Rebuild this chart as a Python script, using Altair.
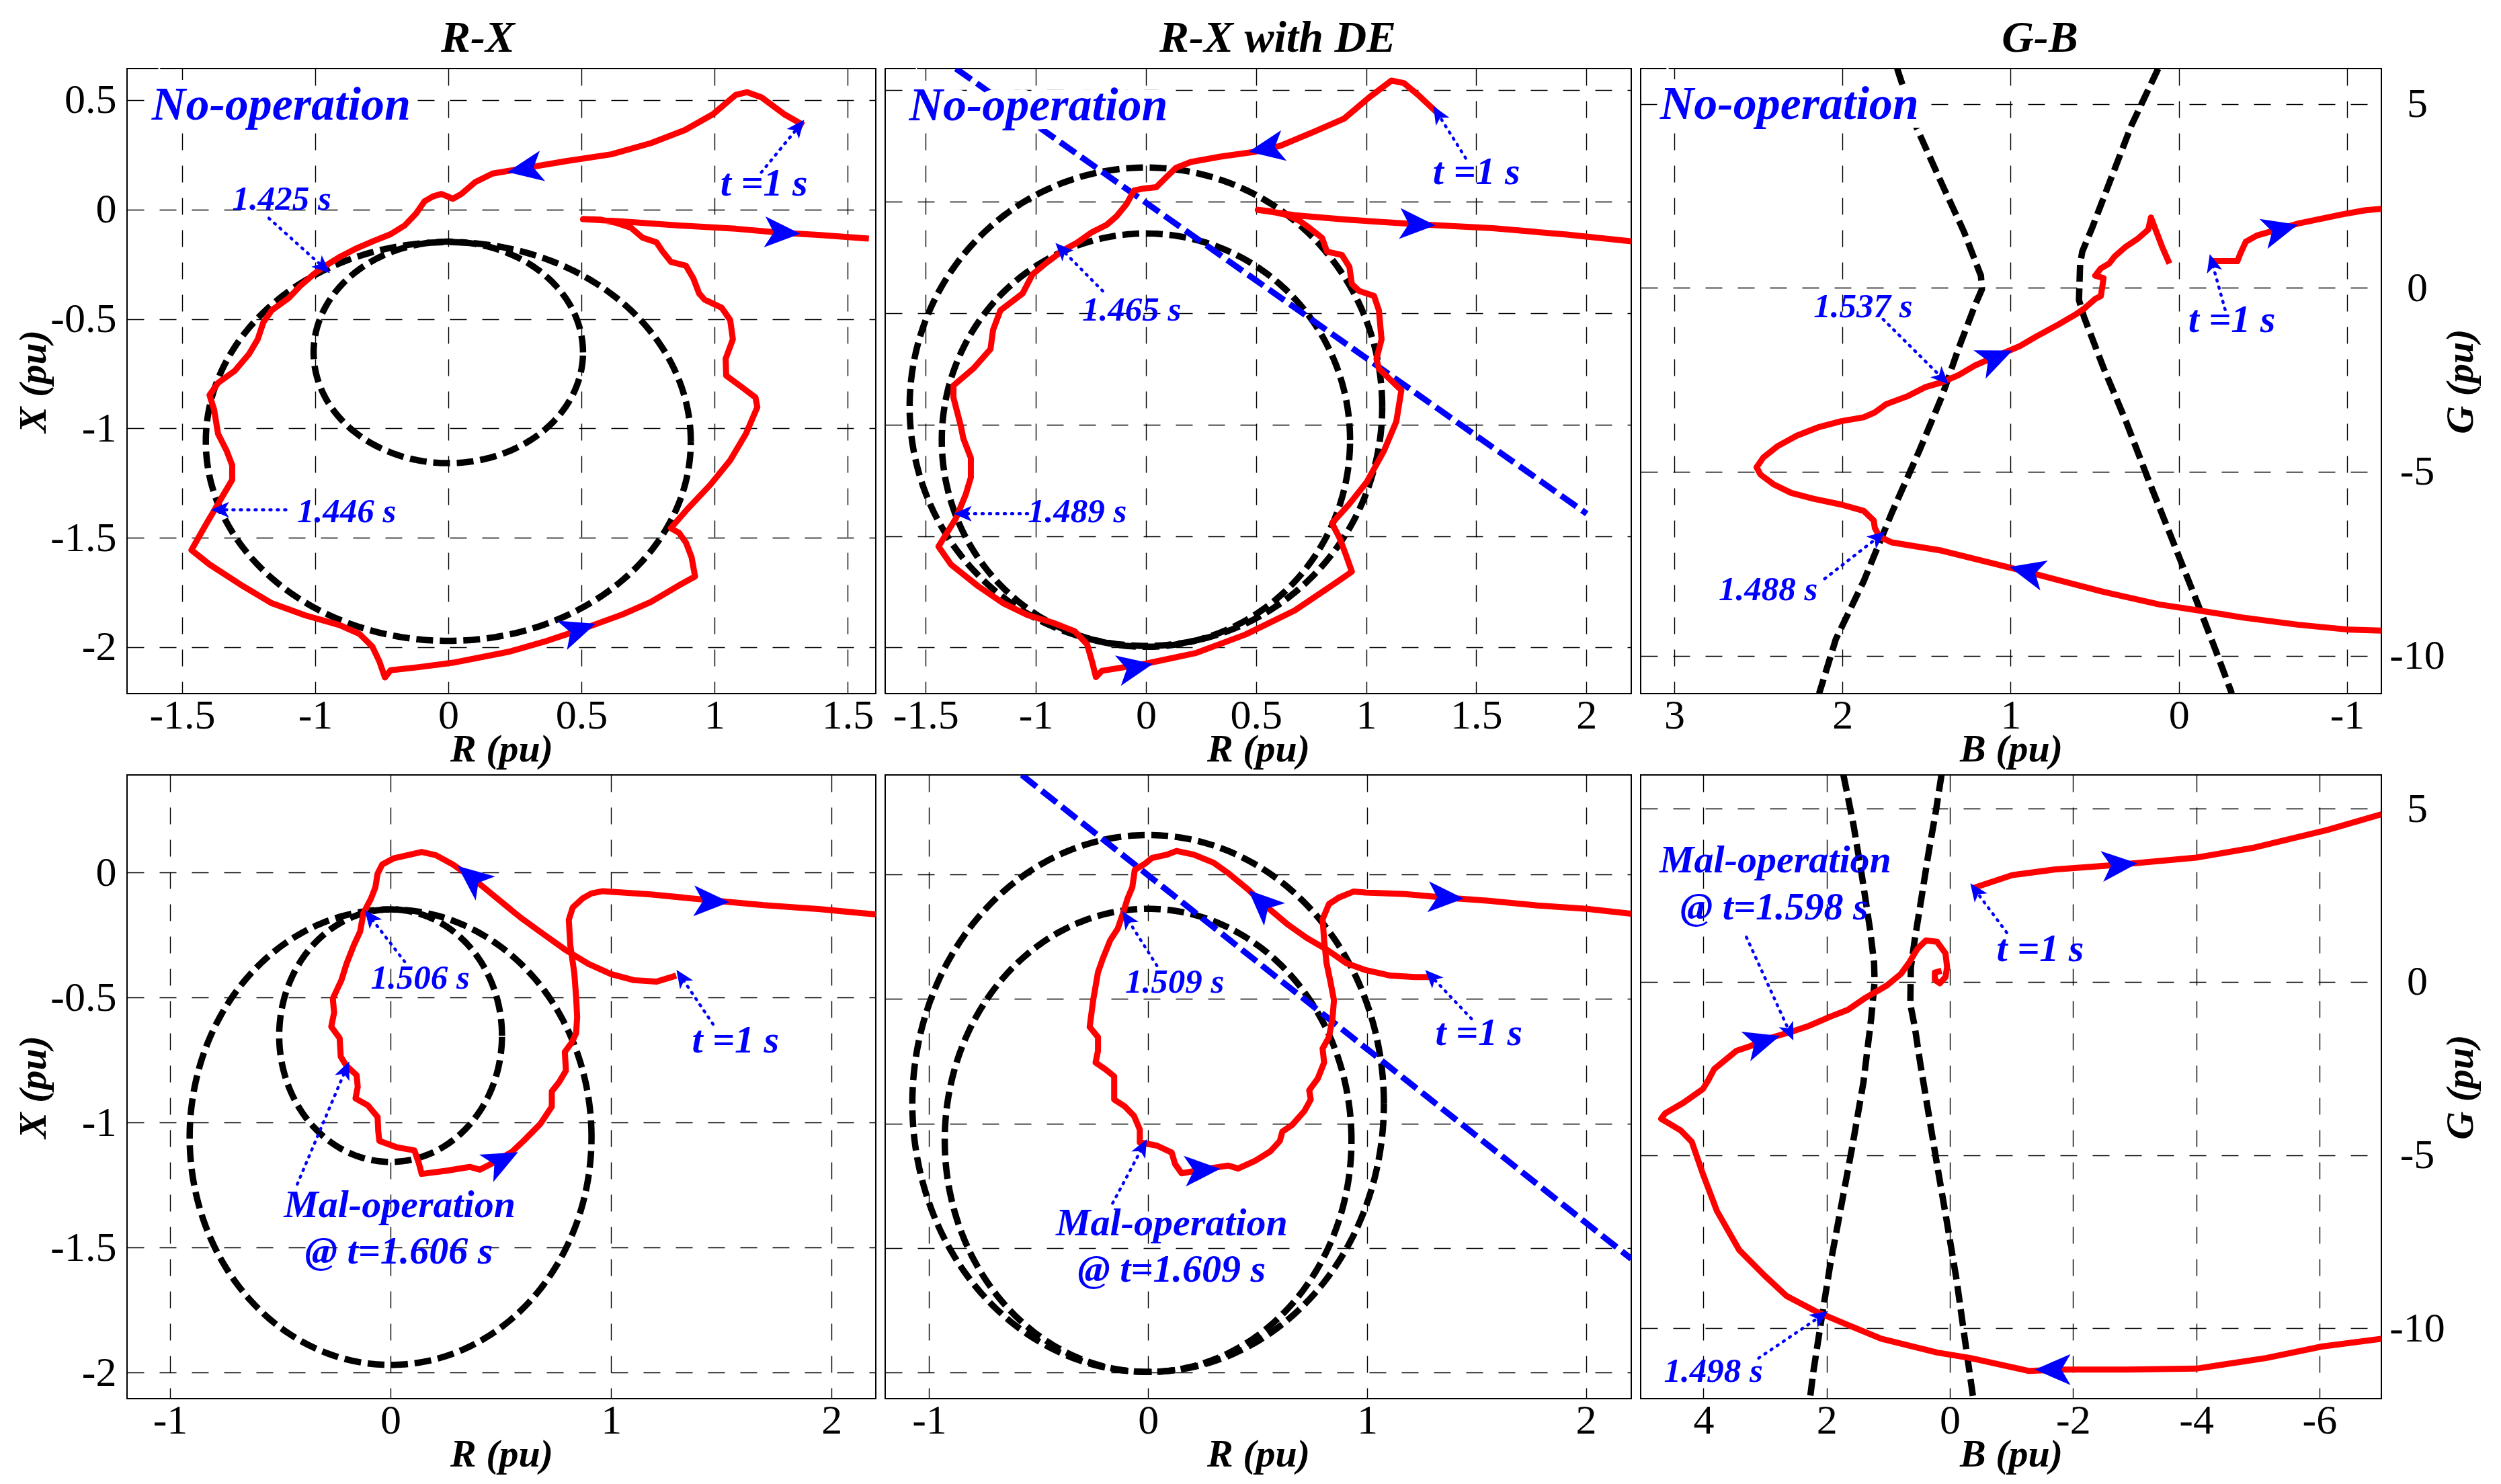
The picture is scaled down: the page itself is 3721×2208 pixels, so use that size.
import altair as alt
import numpy as np
import pandas as pd

FONT = "Liberation Serif"
RED = "#ff0000"
BLUE = "#0000ff"
ARROW = "M0,-1L0.8,0.85L0,0.38L-0.8,0.85Z"

# ======================= DATA =======================
# ---------- Panel 1 : R-X (no-operation) ----------
P1_RED = [(1.335,0.385),(1.261,0.436),(1.176,0.513),(1.123,0.536),(1.080,0.524),(0.995,0.436),(0.889,0.363),
          (0.761,0.303),(0.612,0.252),(0.442,0.221),(0.272,0.186),(0.166,0.164),(0.102,0.126),(0.049,0.071),
          (0.017,0.049),(-0.004,0.060),(-0.026,0.071),(-0.057,0.060),(-0.089,0.038),(-0.121,-0.018),(-0.164,-0.073),
          (-0.217,-0.113),(-0.281,-0.144),(-0.344,-0.177),(-0.408,-0.217),(-0.461,-0.257),(-0.504,-0.294),
          (-0.557,-0.350),(-0.600,-0.405),(-0.663,-0.460),(-0.695,-0.516),(-0.716,-0.593),(-0.748,-0.659),
          (-0.802,-0.737),(-0.865,-0.792),(-0.897,-0.848),(-0.880,-0.914),(-0.865,-1.025),(-0.833,-1.102),
          (-0.812,-1.168),(-0.812,-1.235),(-0.844,-1.301),(-0.876,-1.368),(-0.908,-1.434),(-0.965,-1.556),
          (-0.897,-1.622),(-0.770,-1.722),(-0.663,-1.799),(-0.536,-1.855),(-0.408,-1.899),(-0.334,-1.939),
          (-0.285,-1.998),(-0.259,-2.065),(-0.238,-2.138),(-0.217,-2.105),(-0.111,-2.091),(0.017,-2.071),
          (0.230,-2.020),(0.357,-1.976),(0.506,-1.916),(0.655,-1.850),(0.761,-1.793),(0.867,-1.717),(0.927,-1.677),
          (0.914,-1.589),(0.893,-1.522),(0.867,-1.478),(0.836,-1.456),(0.899,-1.368),(0.985,-1.257),(1.059,-1.146),
          (1.118,-1.025),(1.161,-0.903),(1.154,-0.859),(1.101,-0.810),(1.044,-0.759),(1.042,-0.682),(1.069,-0.593),
          (1.059,-0.505),(1.027,-0.449),(0.963,-0.412),(0.942,-0.383),(0.921,-0.316),(0.893,-0.257),(0.836,-0.239),
          (0.804,-0.190),(0.782,-0.150),(0.729,-0.128),(0.687,-0.084),(0.634,-0.062),(0.570,-0.046),(0.506,-0.044),
          (0.655,-0.055),(0.867,-0.073),(1.080,-0.088),(1.250,-0.106),(1.399,-0.117),(1.580,-0.133)]
P1_CIRCLES = [(0.0, -0.653, 0.506), (0.0, -1.060, 0.911)]          # centre R, centre X, radius
P1_DIR = [(0.293, 0.186, 260), (0.485, -1.921, 71), (1.250, -0.106, 93)]
P1_ANN = [(1.176, 0.170, 1.314, 0.375, 39), (-0.674, -0.040, -0.472, -0.261, 132),
          (-0.610, -1.372, -0.855, -1.372, 270)]
P1_TXT = [("No-operation", -1.114, 0.474, 70, "left", 1), ("t =1 s", 1.186, 0.115, 58, "center", 0),
          ("1.425 s", -0.812, 0.044, 51, "left", 0), ("1.446 s", -0.568, -1.383, 51, "left", 0)]
P1_XTICKS = [-1, -0.5, 0, 0.5, 1, 1.5]
P1_XLABELS = ["-1.5", "-1", "0", "0.5", "1", "1.5"]
P1_YTICKS = [0.5, 0, -0.5, -1, -1.5, -2]
P1_YLABELS = ["0.5", "0", "-0.5", "-1", "-1.5", "-2"]

# ---------- Panel 2 : R-X with DE (no-operation) ----------
P2_RED = [(1.324,0.397),(1.238,0.477),(1.171,0.532),(1.115,0.543),(1.013,0.467),(0.901,0.373),(0.766,0.315),
          (0.609,0.250),(0.497,0.224),(0.339,0.202),(0.204,0.178),(0.137,0.152),(0.092,0.109),(0.047,0.065),
          (-0.009,0.059),(-0.054,0.050),(-0.088,-0.011),(-0.133,-0.065),(-0.178,-0.104),(-0.245,-0.137),
          (-0.312,-0.184),(-0.380,-0.221),(-0.447,-0.271),(-0.515,-0.326),(-0.560,-0.412),(-0.661,-0.488),
          (-0.694,-0.575),(-0.706,-0.662),(-0.784,-0.749),(-0.874,-0.825),(-0.874,-0.879),(-0.840,-1.009),
          (-0.829,-1.063),(-0.795,-1.150),(-0.795,-1.237),(-0.818,-1.313),(-0.863,-1.421),(-0.942,-1.547),
          (-0.885,-1.628),(-0.762,-1.725),(-0.649,-1.801),(-0.537,-1.855),(-0.425,-1.888),(-0.324,-1.927),
          (-0.267,-1.986),(-0.245,-2.062),(-0.227,-2.133),(-0.200,-2.105),(0.002,-2.072),(0.227,-2.025),
          (0.452,-1.942),(0.676,-1.834),(0.856,-1.714),(0.935,-1.660),(0.912,-1.595),(0.879,-1.508),(0.845,-1.443),
          (0.924,-1.356),(1.002,-1.259),(1.081,-1.118),(1.137,-0.987),(1.160,-0.846),(1.126,-0.814),(1.058,-0.749),
          (1.047,-0.705),(1.070,-0.618),(1.058,-0.488),(1.036,-0.423),(0.969,-0.401),(0.935,-0.369),(0.924,-0.293),
          (0.890,-0.239),(0.822,-0.224),(0.800,-0.163),(0.744,-0.119),(0.699,-0.087),(0.643,-0.061),(0.564,-0.043),
          (0.508,-0.037),(0.676,-0.061),(0.901,-0.080),(1.238,-0.102),(1.575,-0.119),(1.912,-0.148),(2.204,-0.178)]
P2_CIRCLES = [(0.0, -0.920, 1.073), (0.0, -1.070, 0.927)]
P2_DE = [(-0.863, 0.597), (2.002, -1.400)]
P2_DIR = [(0.553, 0.239, 260), (1.227, -0.102, 93), (-0.054, -2.090, 79)]
P2_ANN = [(1.452, 0.195, 1.328, 0.391, 329), (-0.196, -0.401, -0.380, -0.217, 316),
          (-0.537, -1.400, -0.829, -1.400, 270)]
P2_TXT = [("No-operation", -1.076, 0.428, 70, "left", 1), ("t =1 s", 1.501, 0.130, 58, "center", 0),
          ("1.465 s", -0.290, -0.488, 51, "left", 0), ("1.489 s", -0.537, -1.393, 51, "left", 0)]
P2_XTICKS = [-1, -0.5, 0, 0.5, 1, 1.5, 2]
P2_XLABELS = ["-1.5", "-1", "0", "0.5", "1", "1.5", "2"]

# ---------- Panel 3 : G-B (no-operation) ----------
P3_RED_A = [(-0.182,0.725),(-0.348,0.725),(-0.365,0.923),(-0.398,1.252),(-0.464,1.423),(-0.597,1.595),
            (-0.713,1.753),(-0.978,2.003),(-1.111,2.109),(-1.204,2.148)]
P3_RED_B = [(-1.204,-9.319),(-1.012,-9.292),(-0.713,-9.160),(-0.381,-8.963),(-0.149,-8.791),(0.116,-8.607),
            (0.448,-8.264),(0.879,-7.750),(1.144,-7.447),(1.410,-7.144),(1.708,-6.920),(1.781,-6.762),
            (1.808,-6.524),(1.814,-6.327),(1.874,-6.063),(2.007,-5.892),(2.172,-5.733),(2.305,-5.575),
            (2.411,-5.338),(2.488,-5.074),(2.511,-4.877),(2.471,-4.613),(2.388,-4.310),(2.272,-4.020),
            (2.139,-3.783),(2.007,-3.625),(1.874,-3.519),(1.808,-3.387),(1.741,-3.163),(1.609,-2.939),
            (1.509,-2.702),(1.410,-2.570),(1.310,-2.372),(1.211,-2.109),(1.078,-1.845),(0.945,-1.582),
            (0.846,-1.318),(0.713,-0.989),(0.614,-0.725),(0.564,-0.567),(0.498,-0.303),(0.464,-0.224),
            (0.454,0.066),(0.448,0.264),(0.498,0.330),(0.464,0.527),(0.415,0.659),(0.381,0.857),(0.315,1.120),
            (0.249,1.318),(0.182,1.582),(0.166,1.911),(0.133,1.516),(0.100,1.120),(0.056,0.659)]
P3_BLK_A = [(1.675,5.958),(1.559,4.350),(1.410,2.834),(1.277,1.516),(1.177,0.330),(1.171,-0.040),(1.211,-0.461),
            (1.310,-1.648),(1.410,-2.966),(1.542,-4.415),(1.708,-6.129),(1.874,-7.974),(2.040,-9.556),(2.139,-11.03)]
P3_BLK_B = [(0.123,5.958),(0.282,4.415),(0.415,2.834),(0.514,1.648),(0.574,0.989),(0.587,0.659),(0.594,-0.330),
            (0.564,-0.791),(0.448,-2.175),(0.315,-3.625),(0.182,-5.206),(0.033,-6.920),(-0.116,-8.633),
            (-0.216,-9.819),(-0.315,-11.03)]
P3_DIR = [(1.095, -1.911, 67), (-0.597, 1.582, 75), (0.896, -7.711, 284)]
P3_ANN = [(-0.275, -0.593, -0.199, 0.659, 345), (1.758, -0.857, 1.410, -2.438, 135),
          (2.106, -7.908, 1.791, -6.788, 52)]
P3_TXT = [("No-operation", 3.085, 4.969, 70, "left", 1), ("t =1 s", -0.315, -0.883, 58, "center", 0),
          ("1.537 s", 2.172, -0.527, 51, "left", 0), ("1.488 s", 2.736, -8.211, 51, "left", 0)]
P3_XTICKS = [3, 2, 1, 0, -1]
P3_XLABELS = ["3", "2", "1", "0", "-1"]
GB_YTICKS = [5, 0, -5, -10]
GB_YLABELS = ["5", "0", "-5", "-10"]

# ---------- Panel 4 : R-X (mal-operation) ----------
P4_RED = [(1.295,-0.412),(1.205,-0.436),(1.103,-0.430),(1.000,-0.406),(0.897,-0.365),(0.795,-0.310),
          (0.692,-0.245),(0.590,-0.180),(0.487,-0.106),(0.372,-0.022),(0.282,0.033),(0.205,0.070),(0.141,0.083),
          (0.077,0.070),(0.013,0.057),(-0.038,0.033),(-0.059,-0.004),(-0.069,-0.059),(-0.090,-0.106),
          (-0.123,-0.161),(-0.138,-0.235),(-0.167,-0.291),(-0.200,-0.365),(-0.223,-0.430),(-0.262,-0.504),
          (-0.256,-0.560),(-0.269,-0.616),(-0.231,-0.662),(-0.226,-0.736),(-0.200,-0.773),(-0.154,-0.810),
          (-0.149,-0.857),(-0.159,-0.903),(-0.103,-0.931),(-0.059,-0.977),(-0.056,-1.033),(-0.051,-1.073),
          (0.026,-1.098),(0.108,-1.111),(0.128,-1.162),(0.141,-1.205),(0.256,-1.192),(0.359,-1.177),(0.405,-1.188),
          (0.462,-1.162),(0.551,-1.116),(0.603,-1.073),(0.679,-1.005),(0.731,-0.936),(0.731,-0.875),(0.764,-0.838),
          (0.795,-0.792),(0.790,-0.717),(0.821,-0.680),(0.841,-0.643),(0.846,-0.578),(0.841,-0.495),(0.833,-0.402),
          (0.815,-0.291),(0.808,-0.189),(0.826,-0.139),(0.872,-0.102),(0.910,-0.083),(0.962,-0.074),(1.179,-0.087),
          (1.436,-0.109),(1.692,-0.130),(1.949,-0.146),(2.200,-0.167)]
P4_CIRCLES = [(0.0, -0.652, 0.505), (0.0, -1.058, 0.911)]
P4_DIR = [(0.372, -0.022, 309), (1.449, -0.115, 92), (0.500, -1.153, 63)]
P4_ANN = [(1.462, -0.606, 1.321, -0.421, 326), (0.064, -0.356, -0.090, -0.180, 322),
          (-0.423, -1.246, -0.205, -0.791, 23)]
P4_TXT = [("t =1 s", 1.564, -0.675, 58, "center", 0), ("1.506 s", -0.090, -0.424, 51, "left", 0),
          ("Mal-operation", 0.041, -1.333, 58, "center", 0), ("@ t=1.606 s", 0.038, -1.518, 58, "center", 0)]
P4_XTICKS = [-1, 0, 1, 2]
P4_XLABELS = ["-1", "0", "1", "2"]
P4_YTICKS = [0, -0.5, -1, -1.5, -2]
P4_YLABELS = ["0", "-0.5", "-1", "-1.5", "-2"]

# ---------- Panel 5 : R-X with DE (mal-operation) ----------
P5_RED = [(1.297,-0.413),(1.219,-0.413),(1.107,-0.407),(0.994,-0.385),(0.905,-0.357),(0.815,-0.302),
          (0.725,-0.256),(0.635,-0.200),(0.523,-0.117),(0.456,-0.061),(0.366,0.004),(0.299,0.046),(0.209,0.078),
          (0.130,0.093),(0.085,0.078),(0.018,0.065),(-0.016,0.041),(-0.061,0.017),(-0.072,-0.052),(-0.094,-0.098),
          (-0.117,-0.163),(-0.139,-0.219),(-0.173,-0.265),(-0.207,-0.339),(-0.229,-0.394),(-0.251,-0.506),
          (-0.267,-0.613),(-0.229,-0.654),(-0.229,-0.709),(-0.240,-0.756),(-0.195,-0.783),(-0.155,-0.811),
          (-0.155,-0.904),(-0.106,-0.932),(-0.065,-0.969),(-0.038,-1.024),(-0.038,-1.076),(0.040,-1.089),
          (0.108,-1.117),(0.123,-1.163),(0.153,-1.200),(0.276,-1.181),(0.366,-1.169),(0.411,-1.181),(0.489,-1.150),
          (0.557,-1.113),(0.602,-1.070),(0.613,-1.033),(0.658,-1.006),(0.714,-0.950),(0.743,-0.904),(0.736,-0.867),
          (0.775,-0.820),(0.804,-0.756),(0.797,-0.700),(0.826,-0.654),(0.842,-0.580),(0.849,-0.506),(0.833,-0.432),
          (0.815,-0.357),(0.804,-0.265),(0.797,-0.181),(0.826,-0.120),(0.871,-0.094),(0.938,-0.070),(0.994,-0.074),
          (1.174,-0.080),(1.354,-0.094),(1.556,-0.107),(1.780,-0.126),(2.004,-0.139),(2.207,-0.159)]
P5_CIRCLES = [(0.0, -0.920, 1.077), (0.0, -1.068, 0.929)]
P5_DE = [(-0.577, 0.398), (2.207, -1.543)]
P5_DIR = [(0.523, -0.117, 313), (1.354, -0.094, 93), (0.242, -1.187, 86)]
P5_ANN = [(1.477, -0.580, 1.297, -0.413, 316), (0.040, -0.367, -0.094, -0.181, 327),
          (-0.162, -1.320, -0.027, -1.098, 28)]
P5_TXT = [("t =1 s", 1.511, -0.639, 58, "center", 0), ("1.509 s", -0.105, -0.435, 51, "left", 0),
          ("Mal-operation", 0.108, -1.404, 58, "center", 0), ("@ t=1.609 s", 0.108, -1.589, 58, "center", 0)]

# ---------- Panel 6 : G-B (mal-operation) ----------
P6_RED_A = [(-0.380,2.708),(-1.014,3.080),(-1.692,3.239),(-2.688,3.372),(-4.000,3.584),(-4.950,3.876),
            (-6.127,4.381),(-7.005,4.832)]
P6_RED_B = [(-7.005,-10.301),(-6.036,-10.527),(-5.131,-10.859),(-4.000,-11.164),(-2.869,-11.191),(-1.783,-11.191),
            (-1.285,-11.231),(-0.335,-10.859),(0.208,-10.700),(1.113,-10.301),(1.656,-9.903),(2.154,-9.531),
            (2.652,-9.067),(3.014,-8.469),(3.421,-7.739),(3.783,-6.611),(4.009,-5.549),(4.190,-4.620),(4.371,-4.288),
            (4.688,-3.956),(4.624,-3.797),(4.326,-3.491),(4.009,-3.093),(3.919,-2.828),(3.828,-2.522),(3.466,-1.991),
            (3.240,-1.858),(3.014,-1.673),(2.561,-1.434),(2.290,-1.274),(1.928,-0.996),(1.656,-0.810),(1.385,-0.478),
            (1.023,-0.106),(0.796,0.226),(0.661,0.558),(0.525,0.956),(0.389,1.195),(0.208,1.155),(0.072,0.823),
            (0.045,0.425),(0.072,0.133),(0.163,-0.040),(0.244,0.053),(0.244,0.265),(0.136,0.319)]
P6_BLK_A = [(1.729,5.974),(1.656,5.337),(1.566,4.540),(1.430,3.080),(1.294,1.487),(1.231,0.558),(1.222,0.000),
            (1.276,-1.035),(1.403,-2.894),(1.584,-4.752),(1.765,-6.478),(1.946,-8.204),(2.090,-9.797),
            (2.217,-11.257),(2.271,-12.027)]
P6_BLK_B = [(0.136,5.974),(0.226,4.938),(0.344,3.743),(0.462,2.416),(0.570,1.221),(0.633,0.425),(0.643,-0.637),
            (0.570,-1.301),(0.480,-2.363),(0.344,-3.823),(0.208,-5.283),(0.054,-6.876),(-0.109,-8.602),
            (-0.244,-10.328),(-0.380,-12.027)]
P6_DIR = [(-2.733, 3.372, 85), (-1.692, -11.191, 270), (3.059, -1.726, 73)]
P6_ANN = [(3.303, 1.288, 2.606, -1.434, 156), (-0.923, 1.420, -0.425, 2.615, 324),
          (3.104, -10.859, 2.109, -9.664, 56)]
P6_TXT = [("Mal-operation", 2.833, 3.478, 58, "center", 0), ("@ t=1.598 s", 2.851, 2.124, 58, "center", 0),
          ("t =1 s", -1.466, 0.929, 58, "center", 0), ("1.498 s", 4.643, -11.257, 51, "left", 0)]
P6_XTICKS = [4, 2, 0, -2, -4, -6]
P6_XLABELS = ["4", "2", "0", "-2", "-4", "-6"]

TITLES = ["R-X", "R-X with DE", "G-B"]


# ======================= helpers =======================
def pairs_df(pieces):
    rows = []
    for k, pts in enumerate(pieces):
        for i, (a, b) in enumerate(pts):
            rows.append({"x": a, "y": b, "seg": k, "i": i})
    return pd.DataFrame(rows)


def circles_df(circles):
    t = np.linspace(0, 2 * np.pi, 361)
    parts = []
    for k, (cx, cy, r) in enumerate(circles):
        parts.append(pd.DataFrame({"x": cx + r * np.cos(t), "y": cy + r * np.sin(t),
                                   "seg": 100 + k, "i": np.arange(len(t))}))
    return pd.concat(parts, ignore_index=True)


def label_expr(vals, labs):
    e = "''"
    for v, l in reversed(list(zip(vals, labs))):
        e = f"abs(datum.value - ({v})) < 1e-6 ? '{l}' : {e}"
    return e


def make_panel(w, h, xdom, ydom, xticks, xlabels, xtitle, yticks, ylabels, ymode, ytitle,
               red, black, dirs, anns, texts, circles=None, de=None, xrev=False, title=None, title_dx=0):
    xaxis = alt.Axis(values=xticks, labelExpr=label_expr(xticks, xlabels), title=xtitle,
                     labelPadding=51, labelBaseline="alphabetic", titleY=100, titleBaseline="alphabetic",
                     labelFlush=False, labelOverlap=False, grid=True)
    if ymode == "left":
        yaxis = alt.Axis(orient="left", values=yticks, labelExpr=label_expr(yticks, ylabels), title=ytitle,
                         titleAngle=270, titleX=-122, titleY=h / 2, titleBaseline="alphabetic",
                         titleAlign="center", labelPadding=16, labelAlign="right", labelBaseline="middle",
                         labelFlush=False, labelOverlap=False, grid=True)
    elif ymode == "right":
        yaxis = alt.Axis(orient="right", values=yticks, labelExpr=label_expr(yticks, ylabels), title=ytitle,
                         titleAngle=270, titleX=135, titleY=h / 2, titleBaseline="alphabetic",
                         titleAlign="center", labelPadding=53, labelAlign="center", labelBaseline="middle",
                         labelFlush=False, labelOverlap=False, grid=True)
    else:
        yaxis = alt.Axis(orient="left", values=yticks, labels=False, title=None, grid=True)

    X = alt.X("x:Q", scale=alt.Scale(domain=xdom, nice=False, zero=False, reverse=xrev), axis=xaxis)
    Y = alt.Y("y:Q", scale=alt.Scale(domain=ydom, nice=False, zero=False), axis=yaxis)

    layers = []
    blk_parts = []
    if circles:
        blk_parts.append(circles_df(circles))
    if black:
        blk_parts.append(pairs_df(black))
    if blk_parts:
        bdf = pd.concat(blk_parts, ignore_index=True)
        layers.append(alt.Chart(bdf).mark_line(color="black", strokeWidth=9.5, strokeDash=[25, 10],
                                               clip=True).encode(x=X, y=Y, detail="seg:N", order="i:Q"))
    if de:
        layers.append(alt.Chart(pairs_df([de])).mark_line(color=BLUE, strokeWidth=9, strokeDash=[28, 10],
                                                          clip=True).encode(x=X, y=Y, order="i:Q"))
    layers.append(alt.Chart(pairs_df(red)).mark_line(color=RED, strokeWidth=9, clip=True,
                                                     strokeJoin="round").encode(
        x=X, y=Y, detail="seg:N", order="i:Q"))
    adf = pd.DataFrame(anns, columns=["x", "y", "x2", "y2", "a"])
    layers.append(alt.Chart(adf).mark_rule(color=BLUE, strokeWidth=4.5, strokeDash=[2, 9],
                                           strokeCap="round").encode(x=X, y=Y, x2="x2:Q", y2="y2:Q"))
    hdf = adf[["x2", "y2", "a"]].rename(columns={"x2": "x", "y2": "y"})
    layers.append(alt.Chart(hdf).mark_point(shape=ARROW, filled=True, color=BLUE, opacity=1,
                                            size=850).encode(x=X, y=Y, angle=alt.Angle("a:Q", scale=None)))
    ddf = pd.DataFrame(dirs, columns=["x", "y", "a"])
    layers.append(alt.Chart(ddf).mark_point(shape=ARROW, filled=True, color=BLUE, opacity=1,
                                            size=3300).encode(x=X, y=Y, angle=alt.Angle("a:Q", scale=None)))
    tdf = pd.DataFrame(texts, columns=["t", "x", "y", "s", "al", "box"])
    for al in ["left", "center"]:
        sub = tdf[tdf["al"] == al]
        boxed = sub[sub["box"] == 1]
        if len(boxed):
            layers.append(alt.Chart(boxed).mark_text(font=FONT, fontStyle="italic", fontWeight="bold",
                                                      color="white", stroke="white", strokeWidth=26,
                                                      align=al, baseline="middle").encode(
                x=X, y=Y, text="t:N", size=alt.Size("s:Q", scale=None)))
        if len(sub):
            layers.append(alt.Chart(sub).mark_text(font=FONT, fontStyle="italic", fontWeight="bold",
                                                   color=BLUE, align=al, baseline="middle").encode(
                x=X, y=Y, text="t:N", size=alt.Size("s:Q", scale=None)))
    if title:
        layers.append(alt.Chart(pd.DataFrame({"t": [title]})).mark_text(
            font=FONT, fontSize=66, fontStyle="italic", fontWeight="bold", color="black",
            align="center", baseline="alphabetic").encode(
            x=alt.value(w / 2 + title_dx), y=alt.value(-25), text="t:N"))
    return alt.layer(*layers).properties(width=w, height=h)


p1 = make_panel(1114, 930, [-1.207, 1.606], [-2.212, 0.644], P1_XTICKS, P1_XLABELS, "R (pu)",
                P1_YTICKS, P1_YLABELS, "left", "X (pu)", [P1_RED], None, P1_DIR, P1_ANN, P1_TXT,
                circles=P1_CIRCLES, title=TITLES[0], title_dx=-35)
p2 = make_panel(1110, 930, [-1.184, 2.204], [-2.207, 0.597], P2_XTICKS, P2_XLABELS, "R (pu)",
                P1_YTICKS, P1_YLABELS, "none", None, [P2_RED], None, P2_DIR, P2_ANN, P2_TXT,
                circles=P2_CIRCLES, de=P2_DE, title=TITLES[1], title_dx=29)
p3 = make_panel(1102, 930, [-1.204, 3.20], [-11.03, 5.96], P3_XTICKS, P3_XLABELS, "B (pu)",
                GB_YTICKS, GB_YLABELS, "right", "G (pu)", [P3_RED_A, P3_RED_B], [P3_BLK_A, P3_BLK_B],
                P3_DIR, P3_ANN, P3_TXT, xrev=True, title=TITLES[2], title_dx=43)
p4 = make_panel(1114, 928, [-1.195, 2.2], [-2.104, 0.391], P4_XTICKS, P4_XLABELS, "R (pu)",
                P4_YTICKS, P4_YLABELS, "left", "X (pu)", [P4_RED], None, P4_DIR, P4_ANN, P4_TXT,
                circles=P4_CIRCLES)
p5 = make_panel(1110, 928, [-1.201, 2.207], [-2.104, 0.398], P4_XTICKS, P4_XLABELS, "R (pu)",
                P4_YTICKS, P4_YLABELS, "none", None, [P5_RED], None, P5_DIR, P5_ANN, P5_TXT,
                circles=P5_CIRCLES, de=P5_DE)
p6 = make_panel(1102, 928, [-7.005, 5.02], [-12.03, 5.97], P6_XTICKS, P6_XLABELS, "B (pu)",
                GB_YTICKS, GB_YLABELS, "right", "G (pu)", [P6_RED_A, P6_RED_B], [P6_BLK_A, P6_BLK_B],
                P6_DIR, P6_ANN, P6_TXT, xrev=True)

chart = alt.concat(p1, p2, p3, p4, p5, p6, columns=3, bounds="flush",
                   spacing=alt.RowColnumber(row=121, column=14)).properties(
    background="white",
    padding={"left": 12, "top": 15, "right": 5, "bottom": 5},
).configure(font=FONT).configure_view(stroke="black", strokeWidth=2).configure_axis(
    gridColor="black", gridDash=[25, 23], gridWidth=1.4, gridOpacity=1,
    labelFont=FONT, labelFontSize=62, labelColor="black",
    titleFont=FONT, titleFontSize=58, titleFontStyle="italic", titleFontWeight="bold", titleColor="black",
    domain=False, ticks=False, tickSize=0,
)

chart.save("out.html", embed_options={"renderer": "svg", "actions": False})
